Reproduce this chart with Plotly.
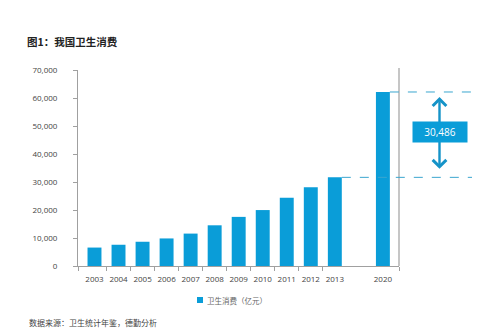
import plotly.graph_objects as go

# ---- data ----
years = ["2003", "2004", "2005", "2006", "2007", "2008", "2009", "2010", "2011", "2012", "2013", " ", "2020"]
spending = [6584, 7590, 8660, 9843, 11574, 14535, 17542, 19980, 24346, 28119, 31662, None, 62147]
gap_label = "30,486"
y_ticks = [0, 10000, 20000, 30000, 40000, 50000, 60000, 70000]
series_name = "卫生消费（亿元）"
title_text = "图1：我国卫生消费"
source_text = "数据来源：卫生统计年鉴，德勤分析"

BLUE = "#0a9dd8"
DASH = "#3aa6cf"
AXIS = "#a0a0a0"
TXT = "#444444"
FONT = "Open Sans, Noto Sans CJK SC, sans-serif"
CJK = "Noto Sans CJK SC, sans-serif"

v2013 = spending[years.index("2013")]
v2020 = spending[years.index("2020")]
ymax = y_ticks[-1]

fig = go.Figure()
fig.add_trace(go.Bar(
    x=years, y=spending, name=series_name,
    marker=dict(color=BLUE, line=dict(width=0)),
    width=0.58, showlegend=False,
))

W, H = 502, 335
L, R, T, B = 78, 103, 70, 69
pw = W - L - R
ph = H - T - B

n = len(years)
boundaries = [-0.686] + [i + 0.5 for i in range(10)] + [n - 0.33]

fig.update_layout(
    width=W, height=H,
    margin=dict(l=L, r=R, t=T, b=B, pad=0),
    paper_bgcolor="white", plot_bgcolor="white",
    showlegend=False,
    title=dict(text=title_text, x=27 / W, xref="container", xanchor="left",
               y=1 - 42 / H, yref="container", yanchor="middle",
               font=dict(family=CJK, size=10.5, color="#222222", weight="bold")),
    xaxis=dict(
        type="category", categoryorder="array", categoryarray=years,
        range=[-0.686, n - 0.33],
        showline=True, linecolor=AXIS, linewidth=1,
        showgrid=False, zeroline=False,
        ticks="", tickfont=dict(family=FONT, size=8, color=TXT),
        ticklabelstandoff=5,
        minor=dict(tickvals=boundaries, ticks="outside", ticklen=4, tickcolor=AXIS, showgrid=False),
    ),
    yaxis=dict(
        range=[0, ymax], tickvals=y_ticks, tickformat=",d",
        showline=True, linecolor=AXIS, linewidth=1,
        showgrid=False, zeroline=False,
        ticks="outside", ticklen=4, tickcolor=AXIS,
        tickfont=dict(family=FONT, size=8, color=TXT),
        ticklabelstandoff=14,
    ),
)

# right border line
fig.add_shape(type="line", xref="paper", yref="paper", x0=1, x1=1, y0=0, y1=1.01,
              line=dict(color=AXIS, width=1.2))

def px_to_paper(px):
    return (px - L) / pw
def py_to_paper(py):
    return (H - B - py) / ph

x_end = px_to_paper(472)
slot = 1 / (n - 0.33 + 0.686)
def cat_right_edge(idx):
    return (idx + 0.29 + 0.686) * slot

# dashed reference lines
fig.add_shape(type="line", xref="paper", yref="paper",
              x0=cat_right_edge(years.index("2013")), x1=x_end,
              y0=v2013 / ymax, y1=v2013 / ymax,
              line=dict(color=DASH, width=1, dash="dash"))
fig.add_shape(type="line", xref="paper", yref="paper",
              x0=cat_right_edge(years.index("2020")), x1=x_end,
              y0=v2020 / ymax, y1=v2020 / ymax,
              line=dict(color=DASH, width=1, dash="dash"))

# double arrow
ax_x = px_to_paper(439.5)
fig.add_annotation(xref="paper", yref="y", x=ax_x, y=v2020, axref="pixel", ayref="y",
                   ax=0, ay=v2013, showarrow=True, arrowside="end+start",
                   arrowhead=4, startarrowhead=4, arrowsize=1.1, startarrowsize=1.1,
                   arrowwidth=2.4, arrowcolor="#1593c8",
                   standoff=5, startstandoff=7, text="")
# value box
fig.add_annotation(xref="paper", yref="y", x=px_to_paper(440), y=(v2013 + v2020) / 2 + 900,
                   xanchor="center", yanchor="middle",
                   text=gap_label, showarrow=False, bgcolor=BLUE,
                   width=50, height=16, borderpad=2,
                   font=dict(family=FONT, size=10, color="white"))

# bar value labels
for yr, v in (("2013", v2013), ("2020", v2020)):
    fig.add_annotation(x=yr, y=v, text=f"{v:,}", showarrow=False, yanchor="bottom", yshift=3,
                       font=dict(family=FONT, size=8, color="#333333"))

# manual legend (small square + label)
fig.add_shape(type="rect", xref="paper", yref="paper",
              x0=px_to_paper(197), x1=px_to_paper(203),
              y0=py_to_paper(303), y1=py_to_paper(297),
              fillcolor=BLUE, line=dict(width=0))
fig.add_annotation(xref="paper", yref="paper", x=px_to_paper(205), y=py_to_paper(300),
                   xanchor="left", yanchor="middle", showarrow=False, text=series_name,
                   font=dict(family=CJK, size=7.5, color="#666666"))

# source
fig.add_annotation(xref="paper", yref="paper", x=px_to_paper(27), y=py_to_paper(322),
                   xanchor="left", yanchor="middle", showarrow=False, text=source_text,
                   font=dict(family=CJK, size=8, color=TXT))

fig.write_html("out.html")
